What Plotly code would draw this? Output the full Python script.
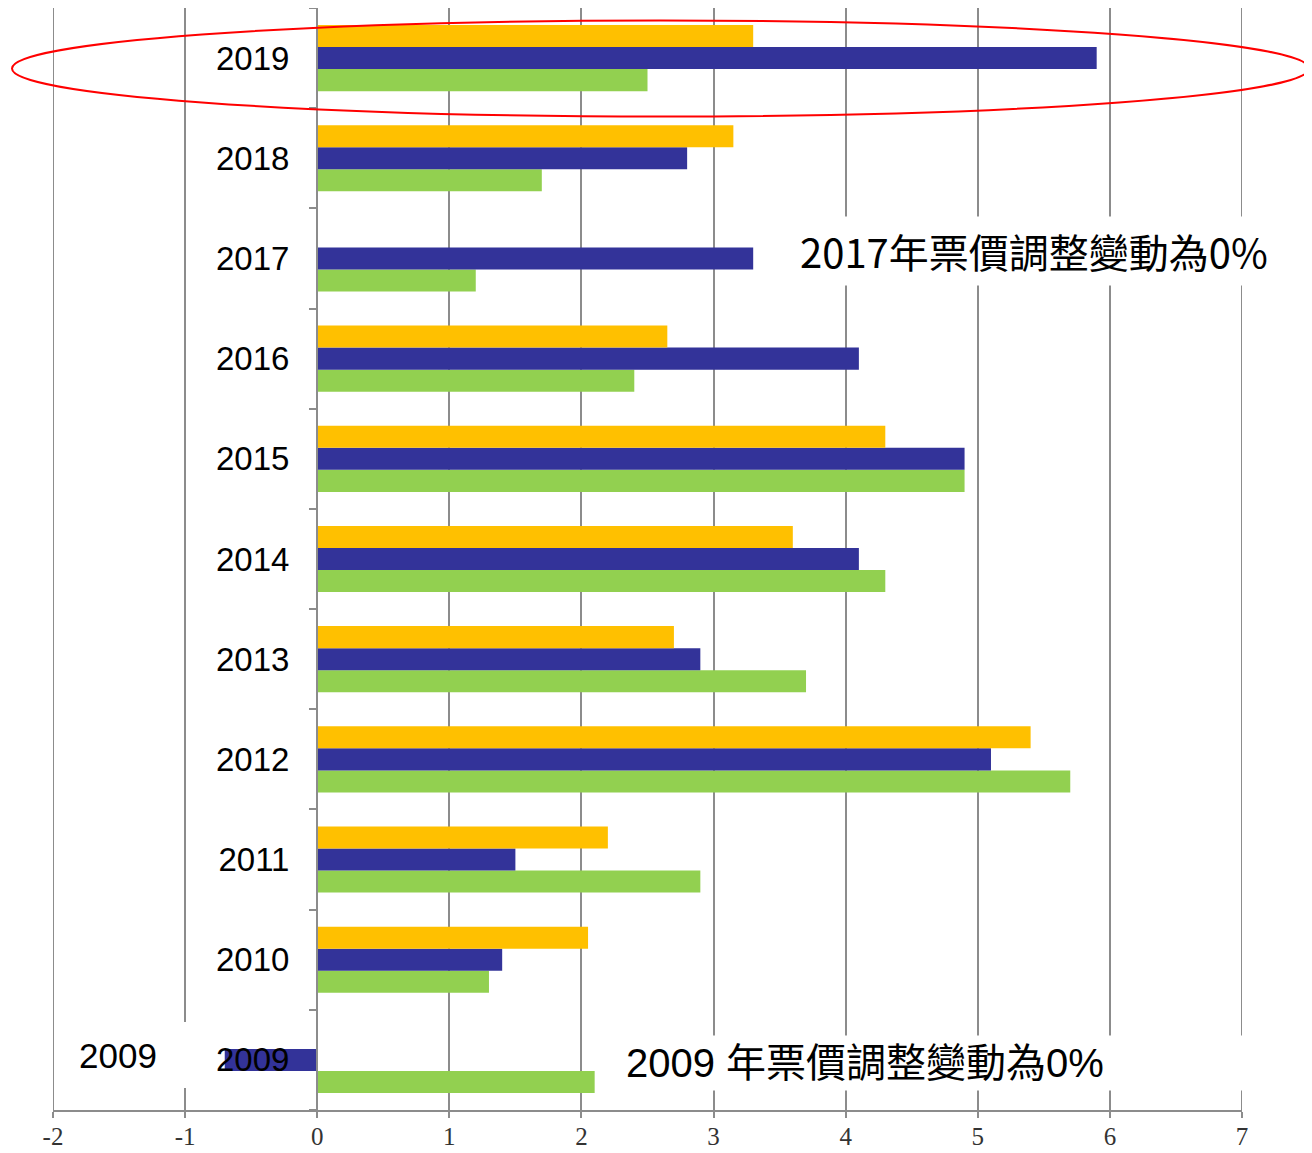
import plotly.graph_objects as go

# ---- data ----
years = ["2009", "2010", "2011", "2012", "2013", "2014", "2015", "2016", "2017", "2018", "2019"]
series_yellow = [None, 2.05, 2.2, 5.4, 2.7, 3.6, 4.3, 2.65, None, 3.15, 3.3]
series_navy = [-0.7, 1.4, 1.5, 5.1, 2.9, 4.1, 4.9, 4.1, 3.3, 2.8, 5.9]
series_green = [2.1, 1.3, 2.9, 5.7, 3.7, 4.3, 4.9, 2.4, 1.2, 1.7, 2.5]
x_ticks = [-2, -1, 0, 1, 2, 3, 4, 5, 6, 7]
note_2017 = "2017年票價調整變動為0%"
note_2009 = "2009 年票價調整變動為0%"
label_2009 = "2009"

# ---- layout geometry (page pixels; the page body adds an 8px offset) ----
OFF = 8
PAGE_W, PAGE_H = 1312, 1153
PL, PR, PT, PB = 53, 1242, 8, 1110          # plot area in page pixels
W, H = PAGE_W - OFF, PAGE_H - OFF
ML, MT = PL - OFF, PT - OFF
MR, MB = PAGE_W - PR, PAGE_H - PB
PW, PH = PR - PL, PB - PT


def px(x):
    return (x - PL) / PW


def py(y):
    return (PB - y) / PH


GRID = "#8c8c8c"

fig = go.Figure()
fig.add_trace(go.Bar(y=years, x=series_green, orientation="h", marker_color="#92D050",
                     marker_line_width=0, name="green"))
fig.add_trace(go.Bar(y=years, x=series_navy, orientation="h", marker_color="#333399",
                     marker_line_width=0, name="navy"))
fig.add_trace(go.Bar(y=years, x=series_yellow, orientation="h", marker_color="#FFC000",
                     marker_line_width=0, name="yellow"))

fig.update_layout(
    width=W, height=H,
    margin=dict(l=ML, r=MR, t=MT, b=MB, pad=0, autoexpand=False),
    paper_bgcolor="white", plot_bgcolor="white",
    barmode="group", bargap=0.34, bargroupgap=0,
    showlegend=False,
    xaxis=dict(
        range=[x_ticks[0], x_ticks[-1]], tickvals=x_ticks, ticktext=[str(v) for v in x_ticks],
        automargin=False,
        showgrid=True, gridcolor=GRID, gridwidth=2,
        zeroline=True, zerolinecolor=GRID, zerolinewidth=2,
        showline=True, linecolor=GRID, linewidth=2,
        ticks="outside", ticklen=6, tickwidth=2, tickcolor=GRID,
        ticklabelstandoff=-3,
        tickfont=dict(family="Liberation Serif", size=25, color="#333333"),
    ),
    yaxis=dict(
        type="category", categoryorder="array", categoryarray=years,
        anchor="free", position=px(317), automargin=False,
        showgrid=False, zeroline=False,
        showline=True, linecolor=GRID, linewidth=2,
        ticks="outside", ticklen=7, tickwidth=2, tickcolor=GRID,
        tickson="boundaries", ticklabelstandoff=20,
        tickfont=dict(family="Liberation Sans, Arial", size=33, color="black"),
    ),
)

shapes = [
    # edge gridlines (plotly omits them at the range ends)
    dict(type="line", xref="x", yref="paper", x0=x_ticks[0], x1=x_ticks[0], y0=0, y1=1,
         line=dict(color=GRID, width=2), layer="below"),
    dict(type="line", xref="x", yref="paper", x0=x_ticks[-1], x1=x_ticks[-1], y0=0, y1=1,
         line=dict(color=GRID, width=2), layer="below"),
    # white box behind left "2009"
    dict(type="rect", xref="paper", yref="paper", x0=px(62), x1=px(196), y0=py(1088), y1=py(1022),
         fillcolor="white", line_width=0, layer="above"),
    # red ellipse around 2019
    dict(type="circle", xref="paper", yref="paper", x0=px(12), x1=px(1309), y0=py(116.5), y1=py(20.5),
         line=dict(color="red", width=2), layer="above"),
]
fig.update_layout(shapes=shapes)

fig.add_annotation(xref="paper", yref="paper", x=px(1034), y=py(251), text=note_2017,
                   showarrow=False, xanchor="center", yanchor="middle",
                   font=dict(family="Noto Sans CJK TC", size=40, color="black"),
                   bgcolor="white", borderpad=5)
fig.add_annotation(xref="paper", yref="paper", x=px(620), y=py(1063), text=note_2009,
                   showarrow=False, xanchor="left", yanchor="middle", align="left", width=624,
                   font=dict(family="Liberation Sans, Noto Sans CJK TC", size=40, color="black"),
                   bgcolor="white", borderpad=5)
fig.add_annotation(xref="paper", yref="paper", x=px(118), y=py(1055), text=label_2009,
                   showarrow=False, xanchor="center", yanchor="middle",
                   font=dict(family="Liberation Sans, Arial", size=35, color="black"))

fig.write_html("out.html")
